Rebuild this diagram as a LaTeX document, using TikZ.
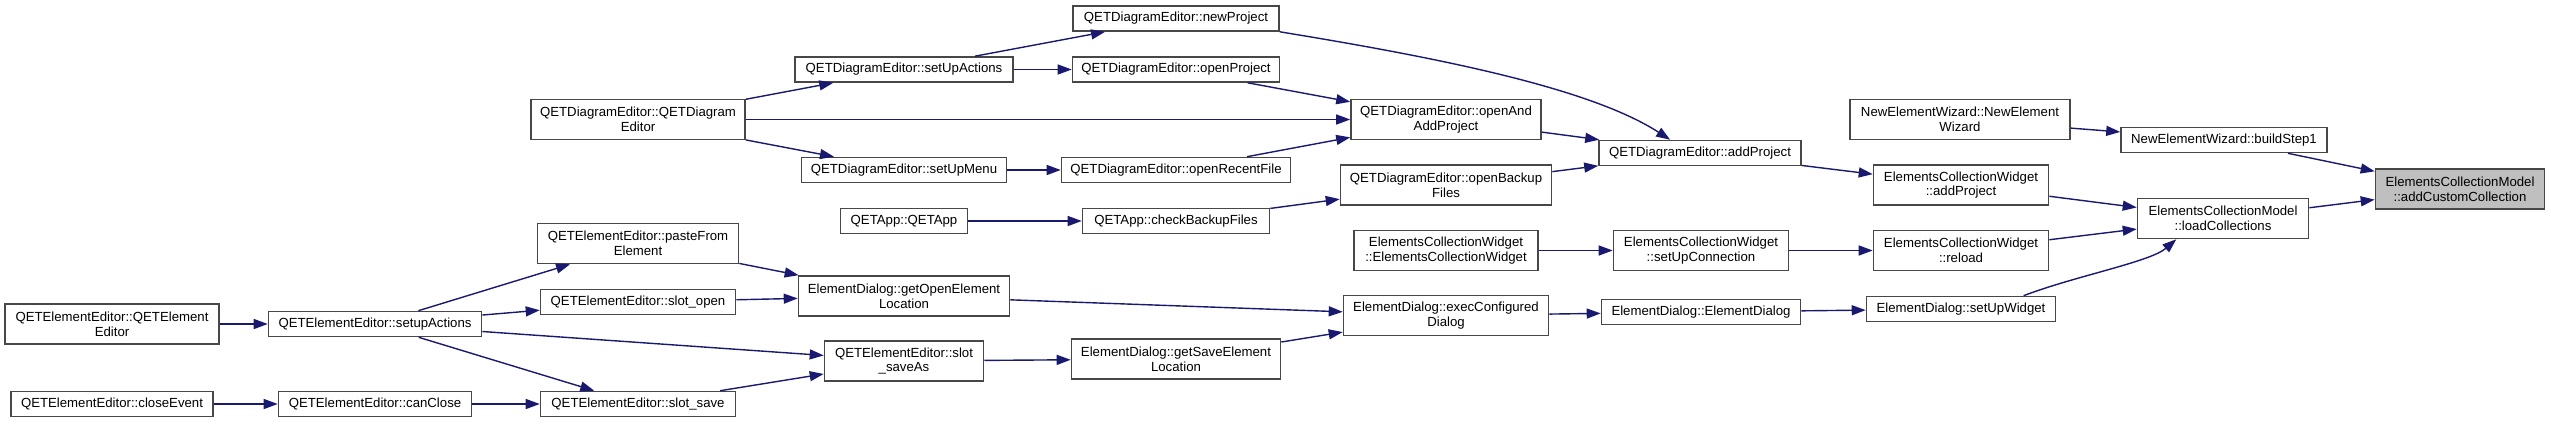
\documentclass[tikz,border=0pt]{standalone}
\usepackage{fontspec}
\setmainfont{Liberation Sans}
\usepackage{tikz}
\usetikzlibrary{arrows.meta}
\definecolor{callblue}{HTML}{191970}
\definecolor{rootgray}{HTML}{BFBFBF}

\begin{document}
\begin{tikzpicture}[x=1pt,y=-1pt,
    fn/.style={draw=black!72, line width=1.6pt, fill=white, minimum height=25pt,
        inner sep=0pt, align=center, font=\fontsize{13.2}{14.7}\selectfont},
    fn2/.style={fn, minimum height=40pt},
    call/.style={draw=callblue, line width=1.4pt, -{Triangle[length=14pt,width=10pt]}}]
    \useasboundingbox (0,0) rectangle (2551,423);
    % rank 0 and 1
    \node[fn2, minimum width=214pt] (qeeCtor) at (112,324) {QETElementEditor::QETElement\\Editor};
    \node[fn, minimum width=202pt] (qeeClose) at (112,404) {QETElementEditor::closeEvent};
    \node[fn, minimum width=213pt] (qeeSetup) at (375,324) {QETElementEditor::setupActions};
    \node[fn, minimum width=193pt] (qeeCanClose) at (375,404) {QETElementEditor::canClose};
    % rank 2
    \node[fn2, minimum width=214pt] (qdeCtor) at (638,119.5) {QETDiagramEditor::QETDiagram\\Editor};
    \node[fn2, minimum width=201pt] (qeePaste) at (638,243.5) {QETElementEditor::pasteFrom\\Element};
    \node[fn, minimum width=195pt] (qeeOpen) at (638,302) {QETElementEditor::slot\_open};
    \node[fn, minimum width=195pt] (qeeSave) at (638,404) {QETElementEditor::slot\_save};
    % rank 3
    \node[fn, minimum width=218pt] (qdeSetUpActions) at (904,69.5) {QETDiagramEditor::setUpActions};
    \node[fn, minimum width=205pt] (qdeSetUpMenu) at (904,170) {QETDiagramEditor::setUpMenu};
    \node[fn, minimum width=127pt] (appCtor) at (904,221) {QETApp::QETApp};
    \node[fn2, minimum width=211pt] (edGetOpen) at (904,296) {ElementDialog::getOpenElement\\Location};
    \node[fn2, minimum width=159pt] (qeeSaveAs) at (904,361) {QETElementEditor::slot\\\_saveAs};
    % rank 4
    \node[fn, minimum width=206pt] (qdeNew) at (1176,18.5) {QETDiagramEditor::newProject};
    \node[fn, minimum width=207pt] (qdeOpen) at (1176,69.5) {QETDiagramEditor::openProject};
    \node[fn, minimum width=229pt] (qdeRecent) at (1176,170) {QETDiagramEditor::openRecentFile};
    \node[fn, minimum width=187pt] (appCheck) at (1176,221) {QETApp::checkBackupFiles};
    \node[fn2, minimum width=209pt] (edGetSave) at (1176,359) {ElementDialog::getSaveElement\\Location};
    % rank 5
    \node[fn2, minimum width=190pt] (qdeOpenAdd) at (1446,119.5) {QETDiagramEditor::openAnd\\AddProject};
    \node[fn2, minimum width=211pt] (qdeBackup) at (1446,185) {QETDiagramEditor::openBackup\\Files};
    \node[fn2, minimum width=184pt] (ecwCtor) at (1446,250.5) {ElementsCollectionWidget\\::ElementsCollectionWidget};
    \node[fn2, minimum width=205pt] (edExec) at (1446,315.5) {ElementDialog::execConfigured\\Dialog};
    % rank 6
    \node[fn, minimum width=202pt] (qdeAdd) at (1700,153) {QETDiagramEditor::addProject};
    \node[fn2, minimum width=175pt] (ecwConn) at (1701,250.5) {ElementsCollectionWidget\\::setUpConnection};
    \node[fn, minimum width=199pt] (edCtor) at (1701,312) {ElementDialog::ElementDialog};
    % rank 7
    \node[fn2, minimum width=220pt] (newCtor) at (1960,119.5) {NewElementWizard::NewElement\\Wizard};
    \node[fn2, minimum width=175pt] (ecwAdd) at (1961,185) {ElementsCollectionWidget\\::addProject};
    \node[fn2, minimum width=175pt] (ecwReload) at (1961,250.5) {ElementsCollectionWidget\\::reload};
    \node[fn, minimum width=189pt] (edWidget) at (1961,309) {ElementDialog::setUpWidget};
    % rank 8 and 9
    \node[fn, minimum width=206pt] (newStep) at (2224,140) {NewElementWizard::buildStep1};
    \node[fn2, minimum width=171pt] (ecmLoad) at (2223,218.5) {ElementsCollectionModel\\::loadCollections};
    \node[fn2, minimum width=169pt, fill=rootgray] (ecmAdd) at (2460,189) {ElementsCollectionModel\\::addCustomCollection};
    % calls
    \foreach \a/\b in {qeeCtor/qeeSetup, qeeClose/qeeCanClose, qeeCanClose/qeeSave,
        qeeSetup/qeePaste, qeeSetup/qeeOpen, qeeSetup/qeeSaveAs, qeeSetup/qeeSave,
        qeePaste/edGetOpen, qeeOpen/edGetOpen, qeeSave/qeeSaveAs, qeeSaveAs/edGetSave,
        edGetOpen/edExec, edGetSave/edExec, edExec/edCtor, edCtor/edWidget,
        qdeCtor/qdeSetUpActions, qdeCtor/qdeOpenAdd, qdeCtor/qdeSetUpMenu,
        qdeSetUpActions/qdeNew, qdeSetUpActions/qdeOpen, qdeSetUpMenu/qdeRecent,
        qdeOpen/qdeOpenAdd, qdeRecent/qdeOpenAdd, qdeOpenAdd/qdeAdd,
        appCtor/appCheck, appCheck/qdeBackup, qdeBackup/qdeAdd, qdeAdd/ecwAdd,
        ecwCtor/ecwConn, ecwConn/ecwReload, ecwAdd/ecmLoad, ecwReload/ecmLoad,
        ecmLoad/ecmAdd, newCtor/newStep, newStep/ecmAdd}
        \draw[call] (\a) -- (\b);
    \draw[call] (qdeNew.south east) .. controls (1440,58) and (1590,88) .. (qdeAdd.156);
    \draw[call] (edWidget.12) .. controls (2075,276) and (2150,262) .. (ecmLoad.204);
\end{tikzpicture}
\end{document}
